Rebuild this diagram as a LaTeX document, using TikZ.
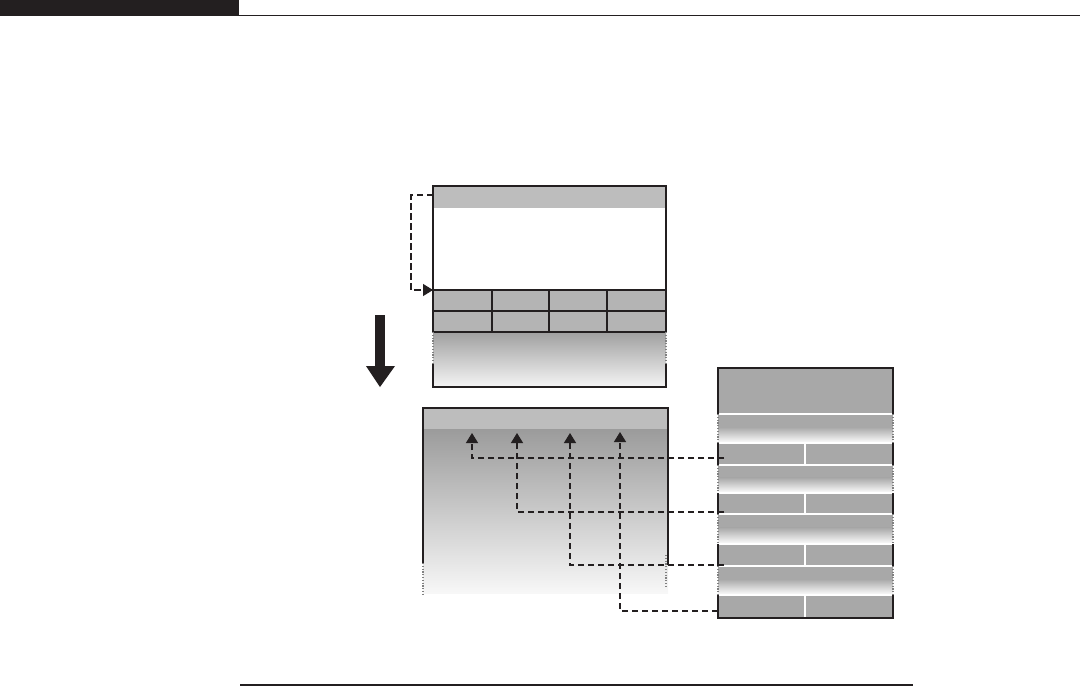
\documentclass[tikz,border=0pt]{standalone}
\usetikzlibrary{arrows.meta}
\definecolor{hdr}{HTML}{BDBDBD}
\definecolor{cellg}{HTML}{B4B4B4}
\definecolor{darkg}{HTML}{A0A0A0}
\definecolor{rgray}{HTML}{A8A8A8}
\definecolor{ink}{HTML}{231F20}
\begin{document}
\begin{tikzpicture}[x=1pt,y=-1pt,
  border/.style={line width=1.7pt,ink},
  gridline/.style={line width=1.2pt,ink},
  dotedge/.style={line width=1.5pt,gray,dash pattern=on 1.2pt off 1.6pt},
  link/.style={line width=1.3pt,ink,dash pattern=on 6.5pt off 3.5pt,-{Triangle[width=12pt,length=10pt]}},
  sep/.style={white,line width=1.3pt}]
\useasboundingbox (0,0) rectangle (1080,686);
% page rules
\fill[ink] (0,0) rectangle (239,16.3);
\draw[line width=1.2pt,ink] (239,15.6) -- (1080,15.6);
\draw[line width=1.8pt,ink] (240,684.6) -- (913,684.6);

% ---------- top box ----------
\fill[hdr] (433,186) rectangle (666,208);
\fill[cellg] (433,290) rectangle (666,332);
\shade[top color=darkg, bottom color=white!96!black] (433,332) rectangle (666,387);
\foreach \yy in {290,311,332} \draw[gridline] (433,\yy) -- (666,\yy);
\foreach \xx in {492,549,607} \draw[gridline] (\xx,290) -- (\xx,332);
\draw[border] (433,332) -- (433,186) -- (666,186) -- (666,332);
\draw[border] (433,364) -- (433,387) -- (666,387) -- (666,364);
\draw[dotedge] (433,332) -- (433,364);
\draw[dotedge] (666,332) -- (666,364);
\coordinate (tbhead) at (433,195);
\coordinate (tbgrid) at (433,290);
\draw[link] (tbhead) -- (411,195) |- (tbgrid);

% ---------- big arrow ----------
\fill[ink] (375,315) rectangle (385,366.5);
\fill[ink] (366,366) -- (395,366) -- (380,387) -- cycle;

% ---------- bottom-left box ----------
\fill[hdr] (423,408) rectangle (668,429);
\shade[top color=darkg!105, bottom color=white!97!black] (423,429) rectangle (668,593);
\draw[border] (423,563) -- (423,408) -- (668,408) -- (668,565);
\draw[dotedge] (423,563) -- (423,594);
\draw[dotedge] (666,555) -- (666,586);
\coordinate (t1) at (472,433);
\coordinate (t2) at (517,433);
\coordinate (t3) at (570,433);
\coordinate (t4) at (620,432);

% ---------- right box ----------
\fill[rgray] (718,368) rectangle (893,618);
\foreach \a/\b in {414/443,465/493,514/544,566/595}{
  \shade[top color=rgray, bottom color=white] (718,{\a+0.45*(\b-\a)}) rectangle (893,\b);
}
\foreach \yy in {414,443,465,493,514,544,566,595} \draw[sep] (718,\yy) -- (893,\yy);
\foreach \a/\b in {443/465,493/514,544/566,595/618} \draw[sep] (805,\a) -- (805,\b);
\draw[border] (718,414) -- (718,368) -- (893,368) -- (893,414);
\foreach \a/\b in {443/465,493/514,544/566} {
  \draw[border] (718,\a) -- (718,\b);
  \draw[border] (893,\a) -- (893,\b);
}
\draw[border] (718,595) -- (718,618) -- (893,618) -- (893,595);
\foreach \a/\b in {414/443,465/493,514/544,566/595} {
  \draw[dotedge] (718,\a) -- (718,\b);
  \draw[dotedge] (893,\a) -- (893,\b);
}
\coordinate (p1) at (724,458);
\coordinate (p2) at (724,512);
\coordinate (p3) at (724,565);
\coordinate (p4) at (718,611);

% ---------- connectors ----------
\draw[link] (p1) -| (t1);
\draw[link] (p2) -| (t2);
\draw[link] (p3) -| (t3);
\draw[link] (p4) -| (t4);
\end{tikzpicture}
\end{document}
